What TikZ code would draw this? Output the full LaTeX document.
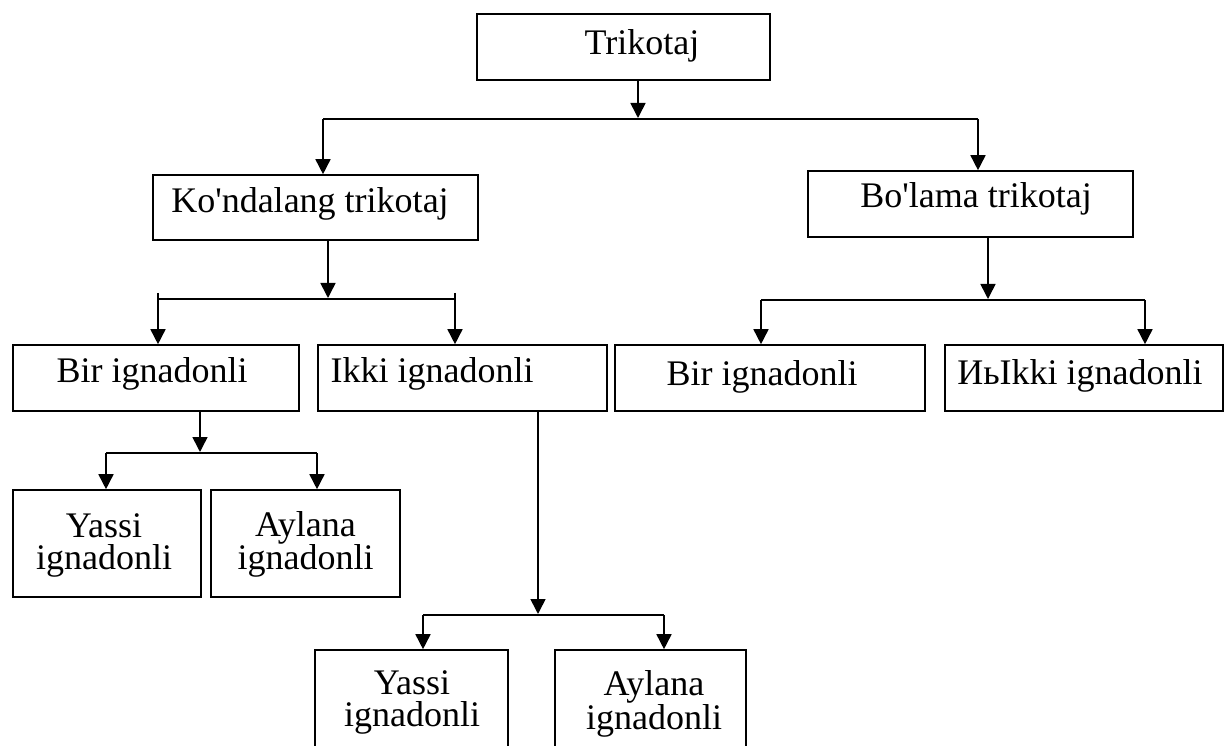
\documentclass[tikz,border=0pt]{standalone}
\usepackage{fontspec}
\setmainfont{Liberation Serif}
\usetikzlibrary{arrows.meta}
\tikzset{
  box/.style={draw, line width=1.6pt, rectangle, inner sep=0pt},
  txt/.style={font=\fontsize{36}{31.5}\selectfont, inner sep=0pt, align=center},
  ln/.style={line width=1.6pt},
  arr/.style={line width=1.6pt, -{Triangle[length=15pt,width=15pt]}},
}
\begin{document}
\begin{tikzpicture}[x=1pt,y=-1pt]
\useasboundingbox (0,0) rectangle (1227,746);
\fill[white] (0,0) rectangle (1227,746);
\begin{scope}
\clip (0,0) rectangle (1227,746);
% boxes
\node[box, minimum width=293pt, minimum height=66pt] (tri) at (623.5,47) {};
\node[box, minimum width=325pt, minimum height=65pt] (kon) at (315.5,207.5) {};
\node[box, minimum width=325pt, minimum height=66pt] (bol) at (970.5,204) {};
\node[box, minimum width=286pt, minimum height=66pt] (bir1) at (156,378) {};
\node[box, minimum width=289pt, minimum height=66pt] (ikki1) at (462.5,378) {};
\node[box, minimum width=310pt, minimum height=66pt] (bir2) at (770,378) {};
\node[box, minimum width=278pt, minimum height=66pt] (ikki2) at (1084,378) {};
\node[box, minimum width=188pt, minimum height=107pt] (yas1) at (107,543.5) {};
\node[box, minimum width=189pt, minimum height=107pt] (ayl1) at (305.5,543.5) {};
\node[box, minimum width=193pt, minimum height=110pt] (yas2) at (411.5,705) {};
\node[box, minimum width=191pt, minimum height=110pt] (ayl2) at (650.5,705) {};
% texts
\node[txt, anchor=base] (tri-t) at (642,55) {Trikotaj};
\node[txt, anchor=base] (kon-t) at (310,213) {Ko\textquotesingle ndalang trikotaj};
\node[txt, anchor=base] (bol-t) at (976,208) {Bo\textquotesingle lama trikotaj};
\node[txt, anchor=base] (bir1-t) at (152,382) {Bir ignadonli};
\node[txt, anchor=base] (ikki1-t) at (432,382) {Ikki ignadonli};
\node[txt, anchor=base] (bir2-t) at (762,385) {Bir ignadonli};
\node[txt, anchor=base] (ikki2-t) at (1080,384) {ИьIkki ignadonli};
\node[txt] (yas1-t) at (104,545.6) {Yassi\\ignadonli};
\node[txt] (ayl1-t) at (305.5,544.5) {Aylana\\ignadonli};
\node[txt] (yas2-t) at (412,702.6) {Yassi\\ignadonli};
\node[txt] (ayl2-t) at (654,703.6) {Aylana\\ignadonli};
% junctions
\coordinate (j0) at (638,118);
\coordinate (h0L) at (323,119);
\coordinate (h0R) at (978,119);
\coordinate (j1) at (328,298);
\coordinate (h1L) at (158,299);
\coordinate (h1R) at (455,299);
\coordinate (h1Lt) at (158,293);
\coordinate (h1Rt) at (455,293);
\coordinate (j2) at (988,299);
\coordinate (h2L) at (761,300);
\coordinate (h2R) at (1145,300);
\coordinate (j3) at (200,452);
\coordinate (h3L) at (106,453);
\coordinate (h3R) at (317,453);
\coordinate (j4) at (538,614);
\coordinate (h4L) at (423,615);
\coordinate (h4R) at (664,615);
% connectors
\draw[arr] (tri.south -| j0) -- (j0);
\draw[ln] (h0L) -- (h0R);
\draw[arr] (h0L) -- (h0L |- kon.north);
\draw[arr] (h0R) -- (h0R |- bol.north);
\draw[arr] (kon.south -| j1) -- (j1);
\draw[ln] (h1L) -- (h1R);
\draw[arr] (h1Lt) -- (h1Lt |- bir1.north);
\draw[arr] (h1Rt) -- (h1Rt |- ikki1.north);
\draw[arr] (bol.south -| j2) -- (j2);
\draw[ln] (h2L) -- (h2R);
\draw[arr] (h2L) -- (h2L |- bir2.north);
\draw[arr] (h2R) -- (h2R |- ikki2.north);
\draw[arr] (bir1.south -| j3) -- (j3);
\draw[ln] (h3L) -- (h3R);
\draw[arr] (h3L) -- (h3L |- yas1.north);
\draw[arr] (h3R) -- (h3R |- ayl1.north);
\draw[arr] (ikki1.south -| j4) -- (j4);
\draw[ln] (h4L) -- (h4R);
\draw[arr] (h4L) -- (h4L |- yas2.north);
\draw[arr] (h4R) -- (h4R |- ayl2.north);
\end{scope}
\end{tikzpicture}
\end{document}
